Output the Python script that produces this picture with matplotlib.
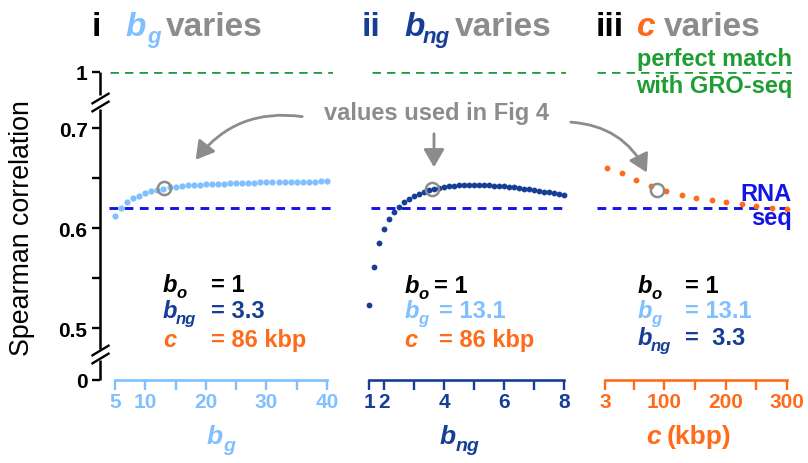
import numpy as np
import matplotlib
matplotlib.use('Agg')
import matplotlib.pyplot as plt

plt.rcParams['font.family'] = ['Liberation Sans', 'DejaVu Sans']

# ---------------- data ----------------
bg_vals = [5, 6, 7, 8, 9, 10, 11, 12, 13, 14, 15, 16, 17, 18, 19, 20, 21, 22, 23, 24,
           25, 26, 27, 28, 29, 30, 31, 32, 33, 34, 35, 36, 37, 38, 39, 40]
bg_corr = [0.6125, 0.620, 0.626, 0.630, 0.6328, 0.635, 0.637, 0.6385, 0.6398, 0.641,
           0.6418, 0.6424, 0.643, 0.6434, 0.6438, 0.6441, 0.6444, 0.6447, 0.6449, 0.6451,
           0.6453, 0.6455, 0.6457, 0.6458, 0.6460, 0.6461, 0.6462, 0.6463, 0.6464, 0.6465,
           0.6466, 0.6467, 0.6468, 0.6469, 0.6470, 0.6470]

bng_vals = [1.5, 1.67, 1.83, 2.0, 2.17, 2.33, 2.5, 2.67, 2.83, 3.0, 3.17, 3.33, 3.5, 3.67,
            3.83, 4.0, 4.17, 4.33, 4.5, 4.67, 4.83, 5.0, 5.17, 5.33, 5.5, 5.67, 5.83, 6.0,
            6.17, 6.33, 6.5, 6.67, 6.83, 7.0, 7.17, 7.33, 7.5, 7.67, 7.83, 8.0]
bng_corr = [0.523, 0.561, 0.585, 0.599, 0.609, 0.616, 0.621, 0.626, 0.629, 0.632, 0.6345,
            0.6365, 0.638, 0.6395, 0.6405, 0.6415, 0.642, 0.6425, 0.643, 0.6432, 0.6435,
            0.6435, 0.6435, 0.6433, 0.643, 0.6427, 0.6423, 0.642, 0.6415, 0.641, 0.6403,
            0.6395, 0.639, 0.6382, 0.6375, 0.6367, 0.636, 0.6352, 0.6345, 0.6338]

c_vals = [6, 30, 54, 78, 102, 128, 151, 178, 200, 227, 250, 275, 300]
c_corr = [0.6605, 0.655, 0.648, 0.642, 0.637, 0.633, 0.630, 0.628, 0.626, 0.624, 0.622,
          0.620, 0.6195]

perfect_match = 1.0
rnaseq_corr = 0.62
used_bg = (13.1, 0.640)
used_bng = (3.6, 0.6395)
used_c = (88, 0.6388)

ytick_vals = [0, 0.5, 0.55, 0.6, 0.65, 0.7, 1]
ytick_labels = ['0', '0.5', '', '0.6', '', '0.7', '1']
bg_ticks = [5, 10, 15, 20, 25, 30, 35, 40]
bg_ticklabels = ['5', '10', '', '20', '', '30', '', '40']
bng_ticks = [1.5, 2, 3, 4, 5, 6, 7, 8]
bng_ticklabels = ['1', '2', '', '4', '', '6', '', '8']
c_ticks = [3, 50, 100, 150, 200, 250, 300]
c_ticklabels = ['3', '', '100', '', '200', '', '300']

# ---------------- style ----------------
LB = '#80C0FF'
DB = '#163E96'
OR = '#FF6B1A'
GRAY = '#8C8C8C'
GREEN = '#1E9E32'
BLUE = '#1414E6'
W, H = 808, 464

fig = plt.figure(figsize=(W / 100, H / 100), dpi=100)

# broken y scale (piecewise linear)
V_KN = [-1, 0, 0.47, 0.73, 1, 2]
D_KN = [-426.74, -381, -359.5, -99.5, -73, 25.15]


def fwd(v):
    return np.interp(np.asarray(v, dtype=float), V_KN, D_KN)


def inv(d):
    return np.interp(np.asarray(d, dtype=float), D_KN, V_KN)


def axes_px(x0, x1, y0=73, y1=381):
    return fig.add_axes([x0 / W, 1 - y1 / H, (x1 - x0) / W, (y1 - y0) / H])


def setup(ax, xlim, bounds, ticks, labels, color):
    ax.set_yscale('function', functions=(fwd, inv))
    ax.set_ylim(0, 1)
    ax.set_xlim(*xlim)
    ax.patch.set_alpha(0)
    for s in ['top', 'right', 'left']:
        ax.spines[s].set_visible(False)
    ax.spines['bottom'].set_bounds(*bounds)
    ax.spines['bottom'].set_color(color)
    ax.spines['bottom'].set_linewidth(1.9)
    ax.set_xticks(ticks)
    ax.set_xticklabels(labels)
    ax.tick_params(axis='x', direction='out', length=7, width=1.7, color=color,
                   labelcolor=color, labelsize=15, pad=2)
    for lbl in ax.get_xticklabels():
        lbl.set_fontweight('bold')
        lbl.set_family(['Liberation Sans Narrow', 'Liberation Sans'])


DASH_G = (0, (3.2, 2.3))
DASH_B = (0, (3.0, 2.2))
LW_G = 1.9
LW_B = 2.1

# Panel i
ax1 = axes_px(100, 333)
setup(ax1, (5 - 15 / 6.057, 40 + 6 / 6.057), (5, 40), bg_ticks, bg_ticklabels, LB)
ax1.set_yticks(ytick_vals)
ax1.set_yticklabels(ytick_labels)
ax1.tick_params(axis='y', direction='out', length=6, width=1.7, labelsize=15, pad=3)
for lbl in ax1.get_yticklabels():
    lbl.set_fontweight('bold')
ax1.axhline(perfect_match, xmin=10 / 233, xmax=1, color=GREEN, lw=LW_G, ls=DASH_G)
ax1.axhline(rnaseq_corr, xmin=9 / 233, xmax=1, color=BLUE, lw=LW_B, ls=DASH_B)
ax1.plot(bg_vals, bg_corr, 'o', ms=4.5, color=LB, mec='none', clip_on=False, zorder=3)
ax1.plot(*used_bg, 'o', ms=9.5, mfc='none', mec=GRAY, mew=1.8, zorder=5)

# manual broken left spine (axes coordinates)
tr = ax1.transAxes
segs = [(1.0, 0.925), (0.88, 0.1006), (0.065, 0.0)]
for a, b in segs:
    ax1.plot([0, 0], [a, b], color='black', lw=1.8, transform=tr, clip_on=False,
             solid_capstyle='butt')
for yy in [0.9156, 0.8896, 0.0974, 0.0714]:
    ax1.plot([0], [yy], transform=tr, marker=[(-1, -0.6), (1, 0.6)], ms=13,
             color='black', mew=1.7, clip_on=False, linestyle='none')

# Panel ii
ax2 = axes_px(369.3, 566)
setup(ax2, (1.5, 8 + 1.7 / 30), (1.5, 8), bng_ticks, bng_ticklabels, DB)
ax2.tick_params(axis='y', left=False, labelleft=False)
ax2.axhline(perfect_match, xmin=2.5 / 197, xmax=1, color=GREEN, lw=LW_G, ls=DASH_G)
ax2.axhline(rnaseq_corr, xmin=2 / 197, xmax=1, color=BLUE, lw=LW_B, ls=DASH_B)
ax2.plot(bng_vals, bng_corr, 'o', ms=4.2, color=DB, mec='none', clip_on=False, zorder=3)
ax2.plot(*used_bng, 'o', ms=9.5, mfc='none', mec=GRAY, mew=1.8, zorder=5)

# Panel iii
ax3 = axes_px(597, 792)
setup(ax3, (3 - 8 / 0.6128, 3 + 187 / 0.6128), (3, 300), c_ticks, c_ticklabels, OR)
ax3.tick_params(axis='y', left=False, labelleft=False)
ax3.axhline(perfect_match, xmin=0, xmax=1, color=GREEN, lw=LW_G, ls=DASH_G)
ax3.axhline(rnaseq_corr, xmin=0, xmax=1, color=BLUE, lw=LW_B, ls=DASH_B)
ax3.plot(c_vals, c_corr, 'o', ms=4.2, color=OR, mec='none', clip_on=False, zorder=3)
ax3.plot(*used_c, 'o', ms=9.5, mfc='none', mec=GRAY, mew=1.8, zorder=5)


# ---------------- text helpers ----------------
def T(px, py, s, color='black', size=17, style='normal', weight='bold', ha='left',
      va='baseline', **kw):
    return fig.text(px / W, 1 - py / H, s, color=color, fontsize=size, fontstyle=style,
                    fontweight=weight, ha=ha, va=va, **kw)


def var(px, py, base, sub, color, size, subsize, dx, dy):
    T(px, py, base, color, size, style='italic')
    if sub:
        T(px + dx, py + dy, sub, color, subsize, style='italic')


# titles
T(92, 36, 'i', 'black', 24)
var(125, 36, 'b', 'g', LB, 24, 16, 22, 7)
T(166, 36, 'varies', GRAY, 24)
T(362, 36, 'ii', DB, 24)
var(404, 36, 'b', 'ng', DB, 24, 16, 19, 7)
T(455, 36, 'varies', GRAY, 24)
T(596, 36, 'iii', 'black', 24)
var(637, 36, 'c', '', OR, 24, 16, 0, 0)
T(664, 36, 'varies', GRAY, 24)

# parameter blocks
PS, SS = 17, 12
# panel i
var(163, 292, 'b', 'o', 'black', PS, SS, 13, 6)
T(211, 292, '= 1', 'black', PS)
var(163, 318, 'b', 'ng', DB, PS, SS, 13, 6)
T(211, 318, '= 3.3', DB, PS)
var(163, 347, 'c', '', OR, PS, SS, 0, 0)
T(211, 347, '= 86 kbp', OR, PS)
# panel ii
var(405, 293, 'b', 'o', 'black', PS, SS, 13, 6)
T(434, 293, '= 1', 'black', PS)
var(405, 318, 'b', 'g', LB, PS, SS, 13, 6)
T(439, 318, '= 13.1', LB, PS)
var(404, 347, 'c', '', OR, PS, SS, 0, 0)
T(439, 347, '= 86 kbp', OR, PS)
# panel iii
var(638, 293, 'b', 'o', 'black', PS, SS, 13, 6)
T(685, 293, '= 1', 'black', PS)
var(638, 318, 'b', 'g', LB, PS, SS, 13, 6)
T(685, 318, '= 13.1', LB, PS)
var(638, 345, 'b', 'ng', DB, PS, SS, 13, 6)
T(685, 345, '=  3.3', DB, PS)

# annotations
T(792, 66, 'perfect match', GREEN, 17, ha='right')
T(792, 93, 'with GRO-seq', GREEN, 17, ha='right')
T(792, 201, 'RNA', BLUE, 17, ha='right')
T(792, 225, 'seq', BLUE, 17, ha='right')
T(436, 120, 'values used in Fig 4', GRAY, 17, ha='center')

# y label
T(22, 228, 'Spearman correlation', 'black', 19.3, weight='normal', ha='center',
  va='center', rotation=90)

# x labels
var(207, 444, 'b', 'g', LB, 19, 14, 16, 7)
var(440, 444, 'b', 'ng', DB, 19, 14, 16, 7)
T(646, 444, 'c', OR, 19, style='italic')
T(667, 444, '(kbp)', OR, 19)


# arrows
def arrow(p0, p1, rad):
    fig.add_artist(matplotlib.patches.FancyArrowPatch(
        (p0[0] / W, 1 - p0[1] / H), (p1[0] / W, 1 - p1[1] / H),
        transform=fig.transFigure, arrowstyle='-|>,head_length=0.6,head_width=0.35',
        connectionstyle=f'arc3,rad={rad}', color=GRAY, lw=2, mutation_scale=18))


arrow((305, 118), (194, 163), 0.3)
arrow((434, 132), (434, 171), 0.0)
arrow((568, 123), (648, 176), -0.3)

fig.savefig('out.png', dpi=100)
